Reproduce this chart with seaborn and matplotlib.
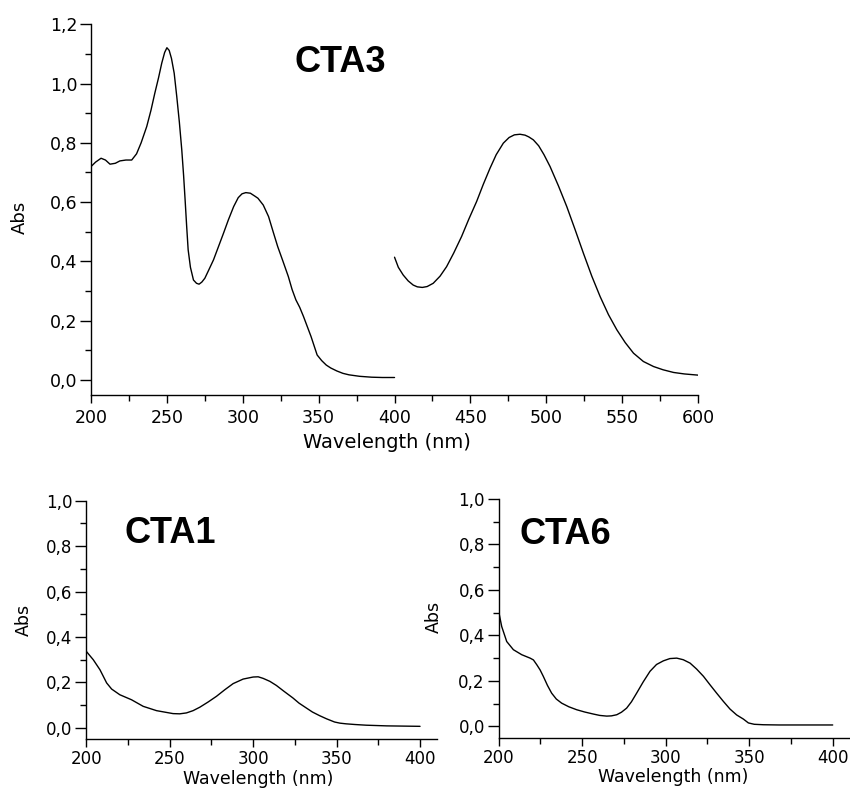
import numpy as np
import pandas as pd
import seaborn as sns
import matplotlib
matplotlib.use("Agg")
import matplotlib.pyplot as plt
from matplotlib.ticker import MultipleLocator, FuncFormatter

# ---- data ----
cta3_uv_wl = [200, 203, 206.6, 209.5, 212.5, 216, 219, 223, 226.8, 230, 233, 236.7, 239.5, 242, 244.5, 246.6,
              248.5, 250, 251.5, 253, 254.8, 256.5, 258.2, 259.8, 261, 262, 263, 264, 265.5, 267.5, 269.5, 271.2,
              273, 275, 277.5, 280.7, 284, 287.3, 290.5, 294, 297, 299.5, 302, 305, 308, 310, 313.5, 317, 320,
              323, 326.5, 330, 332.5, 335, 337.5, 340, 342.5, 345, 347, 349, 352, 355, 358, 362, 366, 370, 377,
              385, 392, 400]
cta3_uv_abs = [0.72, 0.735, 0.748, 0.742, 0.728, 0.731, 0.739, 0.742, 0.742, 0.763, 0.80, 0.855, 0.91, 0.967,
               1.02, 1.069, 1.105, 1.121, 1.112, 1.085, 1.035, 0.956, 0.87, 0.776, 0.69, 0.607, 0.52, 0.439,
               0.38, 0.337, 0.326, 0.323, 0.33, 0.343, 0.37, 0.405, 0.45, 0.495, 0.54, 0.585, 0.615, 0.628,
               0.632, 0.63, 0.62, 0.613, 0.59, 0.551, 0.50, 0.45, 0.40, 0.349, 0.305, 0.27, 0.245, 0.214, 0.18,
               0.146, 0.115, 0.084, 0.065, 0.05, 0.04, 0.03, 0.022, 0.017, 0.012, 0.009, 0.008, 0.008]

cta3_vis_wl = [400, 402.5, 405.7, 409, 412.3, 415, 418.3, 421.5, 425.5, 430, 434.3, 439, 444.2, 449, 454.1, 458.5,
               462.9, 467, 471.7, 475.5, 479, 482.7, 486, 488.5, 491.5, 495, 498.5, 502.5, 508, 513.5, 519, 524.5,
               530, 535.5, 541, 546.5, 552, 557.5, 564, 570.7, 577, 583.9, 591, 600]
cta3_vis_abs = [0.414, 0.38, 0.354, 0.334, 0.32, 0.314, 0.312, 0.315, 0.326, 0.35, 0.382, 0.428, 0.484, 0.543,
                0.602, 0.66, 0.714, 0.76, 0.799, 0.818, 0.827, 0.829, 0.826, 0.82, 0.81, 0.79, 0.76, 0.72, 0.655,
                0.585, 0.507, 0.427, 0.35, 0.281, 0.22, 0.169, 0.126, 0.09, 0.062, 0.045, 0.034, 0.025, 0.02, 0.016]

cta1_wl = [200, 204.2, 208.2, 210, 212.2, 215.2, 220.1, 227.1, 234.1, 242.1, 252, 256, 260, 264, 268, 273, 278,
           283, 288, 294, 300, 303, 306, 310, 313.9, 318.5, 323.8, 327.5, 331.8, 335.5, 339.8, 344, 348.8,
           352, 355.7, 361, 367.7, 380, 390, 400]
cta1_abs = [0.337, 0.30, 0.256, 0.23, 0.198, 0.171, 0.146, 0.124, 0.095, 0.076, 0.063, 0.062, 0.066, 0.076,
            0.091, 0.114, 0.139, 0.168, 0.195, 0.215, 0.224, 0.225, 0.218, 0.205, 0.187, 0.161, 0.132, 0.109,
            0.088, 0.07, 0.054, 0.04, 0.026, 0.021, 0.018, 0.015, 0.012, 0.009, 0.008, 0.007]

cta6_wl = [200, 201.8, 204.8, 208.8, 213.8, 218.8, 220.8, 222.8, 224.8, 226.7, 229.2, 231.7, 234.5, 237.7,
           242, 246.7, 251.5, 256.7, 260.5, 264.7, 267.5, 270.7, 273.5, 276.6, 279.5, 282.6, 286.5, 290.6,
           294.5, 298.6, 302.5, 306.6, 310.5, 314.6, 318.5, 322.6, 326.5, 330.5, 334.5, 338.5, 342.5, 346.5,
           349.5, 353, 358.5, 368, 378.4, 390, 400]
cta6_abs = [0.505, 0.439, 0.373, 0.337, 0.315, 0.30, 0.292, 0.271, 0.248, 0.22, 0.18, 0.146, 0.12, 0.102,
            0.086, 0.073, 0.063, 0.054, 0.048, 0.045, 0.046, 0.051, 0.062, 0.08, 0.108, 0.146, 0.195, 0.242,
            0.272, 0.288, 0.298, 0.30, 0.293, 0.278, 0.252, 0.22, 0.183, 0.146, 0.11, 0.076, 0.05, 0.032,
            0.015, 0.009, 0.007, 0.006, 0.006, 0.006, 0.006]

labels = ["CTA3", "CTA1", "CTA6"]
x_label = "Wavelength (nm)"
y_label = "Abs"

# ---- style ----
sns.set_theme(style="ticks")
plt.rcParams['font.family'] = ['DejaVu Sans']
plt.rcParams['axes.linewidth'] = 1.0

fig = plt.figure(figsize=(8.5, 7.9), dpi=100)

ax_top = fig.add_axes([0.1071, 0.5004, 0.7141, 0.4688])
ax_bl = fig.add_axes([0.1015, 0.0642, 0.4123, 0.3020])
ax_br = fig.add_axes([0.5867, 0.0662, 0.4126, 0.3022])

comma_fmt = FuncFormatter(lambda v, p: f"{v:.1f}".replace(".", ","))
int_fmt = FuncFormatter(lambda v, p: f"{v:.0f}")


def style_axis(ax, xlim, ylim, fs, xpad):
    ax.set_xlim(*xlim)
    ax.set_ylim(*ylim)
    ax.xaxis.set_major_locator(MultipleLocator(50))
    ax.xaxis.set_minor_locator(MultipleLocator(25))
    ax.yaxis.set_major_locator(MultipleLocator(0.2))
    ax.yaxis.set_minor_locator(MultipleLocator(0.1))
    ax.yaxis.set_major_formatter(comma_fmt)
    ax.xaxis.set_major_formatter(int_fmt)
    for s in ["top", "right"]:
        ax.spines[s].set_visible(False)
    for s in ["left", "bottom"]:
        ax.spines[s].set_color("black")
        ax.spines[s].set_linewidth(1.0)
    ax.tick_params(axis="y", which="major", direction="out", length=8, width=1, colors="black",
                   labelsize=fs, pad=2)
    ax.tick_params(axis="y", which="minor", direction="out", length=4.5, width=1, colors="black")
    ax.tick_params(axis="x", which="major", direction="out", length=6, width=1, colors="black",
                   labelsize=fs, pad=xpad)
    ax.tick_params(axis="x", which="minor", direction="out", length=4, width=1, colors="black")
    ax.set_facecolor("white")


title_font = dict(family="Liberation Sans", fontsize=26, fontweight="bold", color="black",
                  ha="left", va="baseline")

# top panel
df3a = pd.DataFrame({"wl": cta3_uv_wl, "abs": cta3_uv_abs})
df3b = pd.DataFrame({"wl": cta3_vis_wl, "abs": cta3_vis_abs})
sns.lineplot(data=df3a, x="wl", y="abs", ax=ax_top, color="black", linewidth=1.0, sort=False)
sns.lineplot(data=df3b, x="wl", y="abs", ax=ax_top, color="black", linewidth=1.0, sort=False)
style_axis(ax_top, (200, 600), (-0.05, 1.2), 12.5, 4)
ax_top.set_xlabel(x_label, fontsize=14, color="black")
ax_top.set_ylabel(y_label, fontsize=13, color="black")
ax_top.xaxis.set_label_coords(0.488, -0.103)
ax_top.yaxis.set_label_coords(-0.102, 0.478)
ax_top.text(0.336, 0.871, labels[0], transform=ax_top.transAxes, **title_font)

# bottom-left
df1 = pd.DataFrame({"wl": cta1_wl, "abs": cta1_abs})
sns.lineplot(data=df1, x="wl", y="abs", ax=ax_bl, color="black", linewidth=1.0, sort=False)
style_axis(ax_bl, (200, 410), (-0.05, 1.0), 12, 2)
ax_bl.set_xlabel(x_label, fontsize=12.5, color="black")
ax_bl.set_ylabel(y_label, fontsize=12.5, color="black")
ax_bl.xaxis.set_label_coords(0.49, -0.128)
ax_bl.yaxis.set_label_coords(-0.152, 0.5)
ax_bl.text(0.108, 0.823, labels[1], transform=ax_bl.transAxes, **title_font)

# bottom-right
df6 = pd.DataFrame({"wl": cta6_wl, "abs": cta6_abs})
sns.lineplot(data=df6, x="wl", y="abs", ax=ax_br, color="black", linewidth=1.0, sort=False)
style_axis(ax_br, (200, 410), (-0.05, 1.0), 12, 2)
ax_br.set_xlabel(x_label, fontsize=12.5, color="black")
ax_br.set_ylabel(y_label, fontsize=12.5, color="black")
ax_br.xaxis.set_label_coords(0.497, -0.128)
ax_br.yaxis.set_label_coords(-0.159, 0.506)
ax_br.text(0.058, 0.811, labels[2], transform=ax_br.transAxes, **title_font)

fig.savefig("out.png", dpi=100, facecolor="white")
